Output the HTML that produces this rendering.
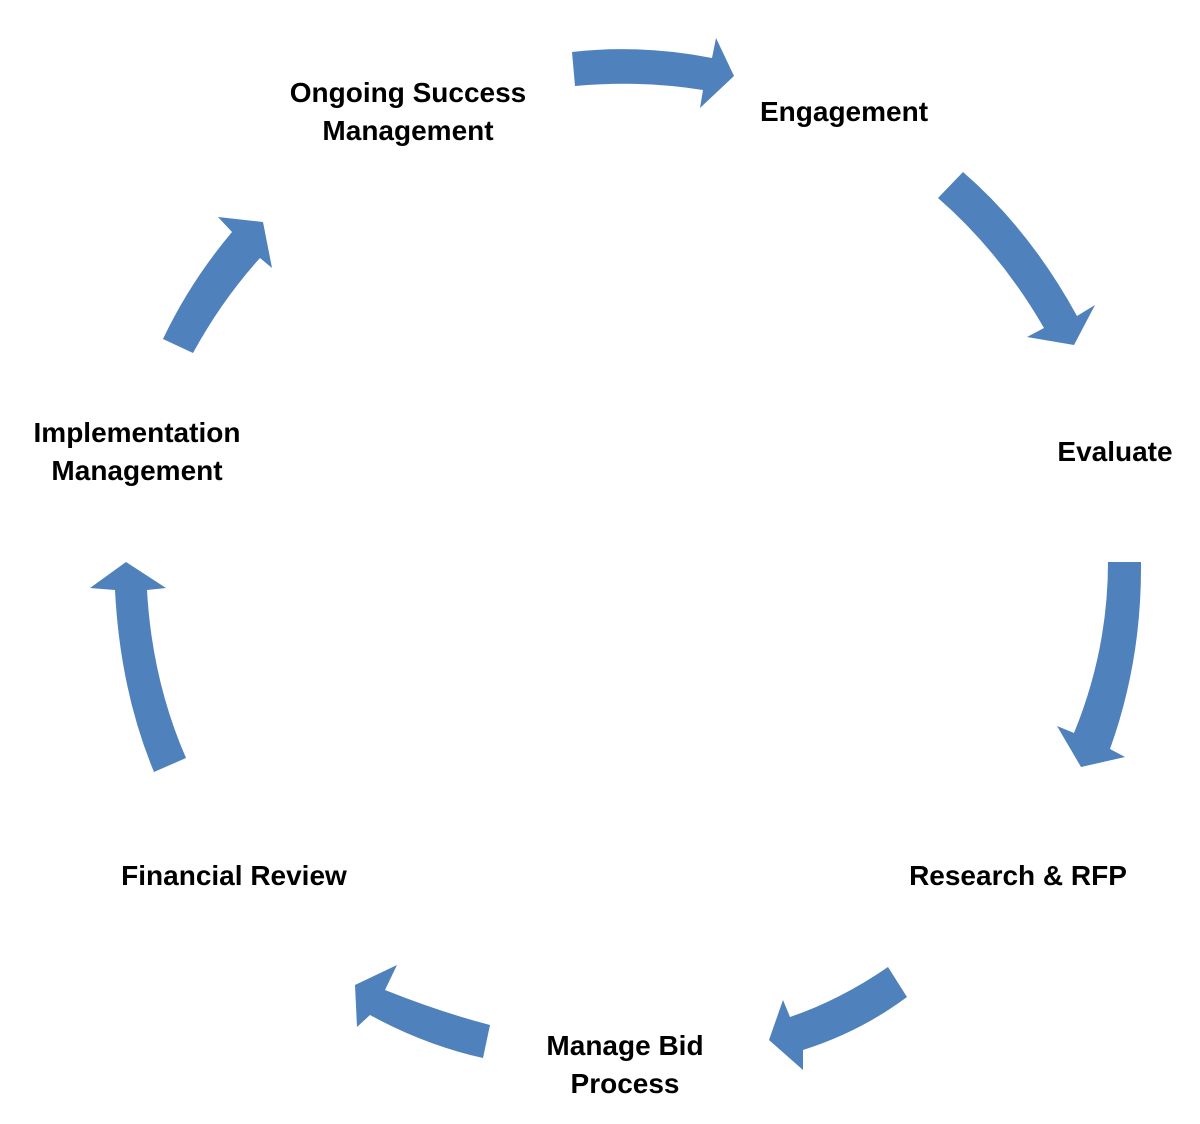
<!DOCTYPE html>
<html><head><meta charset="utf-8"><style>
html,body{margin:0;padding:0;background:#fff;}
body{width:1200px;height:1124px;position:relative;overflow:hidden;font-family:"Liberation Sans",Arial,sans-serif;}
.t{position:absolute;font-weight:bold;font-size:28px;line-height:38px;color:#000;text-align:center;white-space:nowrap;}
svg{position:absolute;left:0;top:0;}
</style></head><body>
<svg width="1200" height="1124" viewBox="0 0 1200 1124">
<g fill="#4f81bd">
<path d="M572,52 Q640,44 712,58 L716,38 L734,76 L700,108 L703,90 Q640,80 575,86 Z"/>
<path d="M963,172 Q1030,230 1077,316 L1095,305 L1074,345 L1027,337 L1044,328 Q1000,252 938,198 Z"/>
<path d="M1141,562 Q1142,660 1110,749 L1125,757 L1081,767 L1057,726 L1074,733 Q1108,650 1108,562 Z"/>
<path d="M907,997 Q860,1032 803,1050 L803,1070 L769,1040 L783,1000 L790,1017 Q840,1000 888,967 Z"/>
<path d="M483,1058 Q425,1045 370,1015 L357,1027 L355,985 L397,965 L385,990 Q440,1012 490,1025 Z"/>
<path d="M154,772 Q120,690 115,590 L90,588 L126,562 L166,588 L147,590 Q152,680 186,758 Z"/>
<path d="M163,339 Q190,282 232,232 L218,217 L263,222 L272,268 L260,258 Q222,300 193,353 Z"/>
</g>
</svg>
<div class="t" style="left:258px;top:74px;width:300px;">Ongoing Success<br>Management</div>
<div class="t" style="left:744px;top:93px;width:200px;">Engagement</div>
<div class="t" style="left:1040px;top:433px;width:150px;">Evaluate</div>
<div class="t" style="left:888px;top:857px;width:260px;">Research &amp; RFP</div>
<div class="t" style="left:500px;top:1027px;width:250px;">Manage Bid<br>Process</div>
<div class="t" style="left:94px;top:857px;width:280px;">Financial Review</div>
<div class="t" style="left:0px;top:414px;width:274px;">Implementation<br>Management</div>
</body></html>
